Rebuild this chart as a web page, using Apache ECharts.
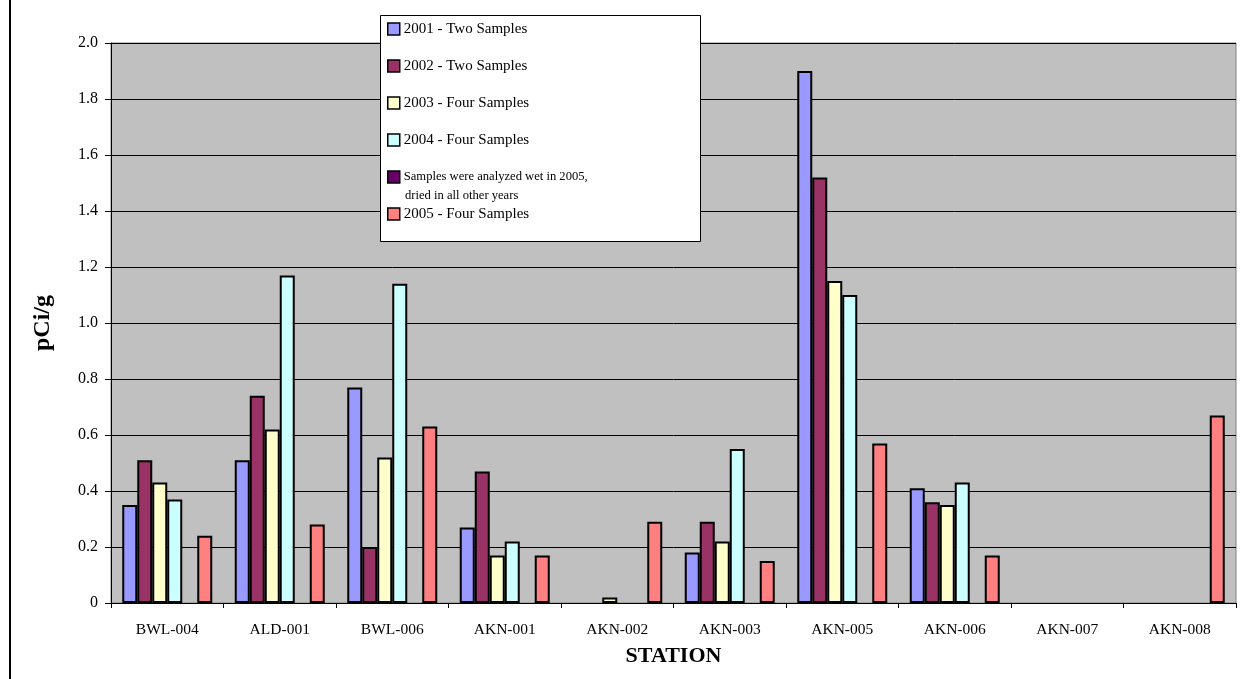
<!DOCTYPE html>
<html>
<head>
<meta charset="utf-8">
<script src="https://cdn.jsdelivr.net/npm/echarts@6/dist/echarts.min.js"></script>
<style>
html,body{margin:0;padding:0;background:#fff;}
#chart{width:1257px;height:679px;}
</style>
</head>
<body>
<div id="chart"></div>
<script>
const categories = ['BWL-004','ALD-001','BWL-006','AKN-001','AKN-002','AKN-003','AKN-005','AKN-006','AKN-007','AKN-008'];
const seriesNames = ['2001 - Two Samples','2002 - Two Samples','2003 - Four Samples','2004 - Four Samples','Samples were analyzed wet in 2005,','2005 - Four Samples'];
const wetNoteSecondLine = 'dried in all other years';
const s2001 = [0.35, 0.51, 0.77, 0.27, null, 0.18, 1.90, 0.41, null, null];
const s2002 = [0.51, 0.74, 0.20, 0.47, null, 0.29, 1.52, 0.36, null, null];
const s2003 = [0.43, 0.62, 0.52, 0.17, 0.02, 0.22, 1.15, 0.35, null, null];
const s2004 = [0.37, 1.17, 1.14, 0.22, null, 0.55, 1.10, 0.43, null, null];
const sWet  = [null, null, null, null, null, null, null, null, null, null];
const s2005 = [0.24, 0.28, 0.63, 0.17, 0.29, 0.15, 0.57, 0.17, null, 0.67];
const yTicks = ['0','0.2','0.4','0.6','0.8','1.0','1.2','1.4','1.6','1.8','2.0'];
const colors = ['#9999FF','#993366','#FFFFCC','#CCFFFF','#660066','#FF8080'];
const allData = [s2001, s2002, s2003, s2004, sWet, s2005];

const FONT = '"Liberation Serif", "DejaVu Serif", serif';
const chart = echarts.init(document.getElementById('chart'));
chart.setOption({
  animation: false,
  textStyle: { fontFamily: FONT, color: '#000' },
  grid: { left: 111, top: 43, width: 1125, height: 560, show: true, backgroundColor: '#C0C0C0', borderColor: '#808080', borderWidth: 1 },
  legend: {
    orient: 'vertical', left: 387, top: 21, padding: 0, z: 10,
    itemWidth: 12, itemHeight: 12, itemGap: 21,
    icon: 'rect',
    itemStyle: { borderColor: '#000', borderWidth: 1.5 },
    textStyle: { fontFamily: FONT, fontSize: 15, color: '#000', lineHeight: 16, padding: [0,0,0,-1] },
    data: seriesNames.map((n, i) => i === 4 ? { name: n, textStyle: { fontSize: 12.6, lineHeight: 16 } } : { name: n })
  },
  graphic: [
    { type: 'rect', z: 5, shape: { x: 380.5, y: 15.5, width: 320, height: 226 }, style: { fill: '#fff', stroke: '#000', lineWidth: 1 } },
    { type: 'text', z: 11, left: 405, top: 189, style: { text: wetNoteSecondLine, font: '12.6px ' + FONT, fill: '#000' } },
    { type: 'line', z: 11, shape: { x1: 10, y1: 0, x2: 10, y2: 679 }, style: { stroke: '#000', lineWidth: 2 } }
  ],
  xAxis: {
    type: 'category', data: categories,
    name: 'STATION', nameLocation: 'middle', nameGap: 42,
    nameTextStyle: { fontFamily: FONT, fontSize: 22, fontWeight: 'bold', color: '#000' },
    axisLine: { lineStyle: { color: '#000', width: 1 } },
    axisTick: { show: true, length: 5, lineStyle: { color: '#000' } },
    axisLabel: { fontFamily: FONT, fontSize: 15.5, color: '#000', margin: 19 }
  },
  yAxis: {
    type: 'value', min: 0, max: 2, interval: 0.2,
    name: 'pCi/g', nameLocation: 'middle', nameGap: 56,
    nameTextStyle: { fontFamily: FONT, fontSize: 24, fontWeight: 'bold', color: '#000' },
    axisLine: { show: true, lineStyle: { color: '#000', width: 1 } },
    axisTick: { show: true, length: 6, lineStyle: { color: '#000' } },
    axisLabel: { fontFamily: FONT, fontSize: 16, color: '#000', margin: 13,
      formatter: v => yTicks[Math.round(v / 0.2)] },
    splitLine: { show: true, lineStyle: { color: '#000', width: 1 } }
  },
  series: seriesNames.map((n, i) => ({
    name: n, type: 'bar', data: allData[i],
    barGap: '0%', barCategoryGap: '20%',
    itemStyle: { color: colors[i], borderColor: '#000', borderWidth: 2 }
  }))
});
</script>
</body>
</html>
